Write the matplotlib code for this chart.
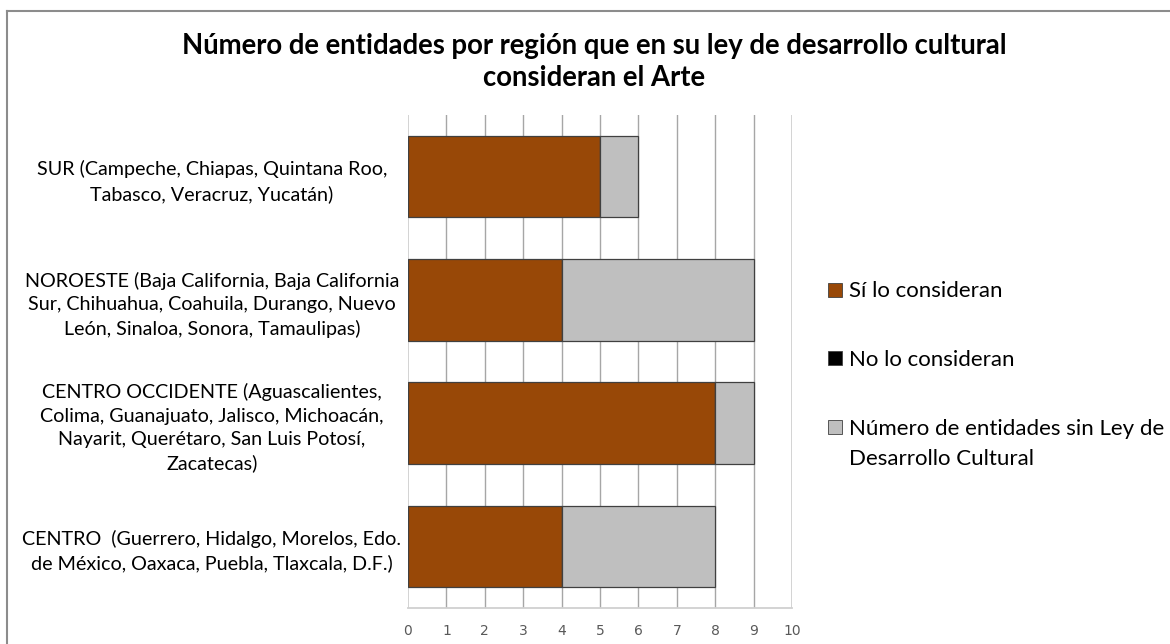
import matplotlib
matplotlib.use("Agg")
import matplotlib.pyplot as plt
from matplotlib.patches import Rectangle
from matplotlib.lines import Line2D

# ---- data ----
categories = [
    "SUR (Campeche, Chiapas, Quintana Roo,\nTabasco, Veracruz, Yucatán)",
    "NOROESTE (Baja California, Baja California\nSur, Chihuahua, Coahuila, Durango, Nuevo\nLeón, Sinaloa, Sonora, Tamaulipas)",
    "CENTRO OCCIDENTE (Aguascalientes,\nColima, Guanajuato, Jalisco, Michoacán,\nNayarit, Querétaro, San Luis Potosí,\nZacatecas)",
    "CENTRO  (Guerrero, Hidalgo, Morelos, Edo.\nde México, Oaxaca, Puebla, Tlaxcala, D.F.)",
]
si_lo_consideran = [5, 4, 8, 4]
no_lo_consideran = [0, 0, 0, 0]
sin_ley = [1, 5, 1, 4]
series_names = ["Sí lo consideran", "No lo consideran",
                "Número de entidades sin Ley de\nDesarrollo Cultural"]
series_colors = ["#984807", "#000000", "#BFBFBF"]
x_ticks = list(range(0, 11))
title = "Número de entidades por región que en su ley de desarrollo cultural\nconsideran el Arte"

FONT = "Lato"
W, H = 1170, 644
PX2PT = 72 / 100
fig = plt.figure(figsize=(W / 100, H / 100), dpi=100)
ax = fig.add_axes([408 / W, 1 - 608 / H, (792 - 408) / W, (608 - 115) / H])

ypos = list(range(len(categories)))
left = [0] * len(categories)
for vals, color, name in zip([si_lo_consideran, no_lo_consideran, sin_ley],
                             series_colors, series_names):
    ax.barh(ypos, vals, left=left, height=0.66, color=color,
            edgecolor="#404040", linewidth=0.9, label=name, zorder=3)
    left = [l + v for l, v in zip(left, vals)]

ax.set_xlim(0, 10)
ax.set_ylim(len(categories) - 0.5, -0.5)
ax.set_xticks(x_ticks)
ax.set_xticklabels([str(t) for t in x_ticks], family="DejaVu Sans",
                   fontsize=10, color="#595959")
ax.tick_params(axis="x", length=0, pad=16 * PX2PT)
ax.set_yticks(ypos)
ax.set_yticklabels(categories, family=FONT, fontsize=14.2, color="#000000",
                   ha="center")
for lbl in ax.get_yticklabels():
    lbl.set_linespacing(1.45)
ax.tick_params(axis="y", length=0, pad=(408 - 212) * PX2PT)

for t in x_ticks:
    c = "#D0D0D0" if t in (0, 10) else "#A6A6A6"
    ax.axvline(t, color=c, linewidth=1.3 if t in (0, 10) else 1.0, zorder=1)
for s in ["top", "right", "left"]:
    ax.spines[s].set_visible(False)
ax.spines["bottom"].set_color("#D0D0D0")
ax.spines["bottom"].set_linewidth(1.3)

fig.text(594 / W, 1 - 62 / H, title, ha="center", va="center",
         family=FONT, fontweight="bold", fontsize=19.8, linespacing=1.33)

# legend (manual placement to match reference)
leg_rows = [289.5, 358, 427]
line_gap = 30
for (yy, name, color) in zip(leg_rows, series_names, series_colors):
    fig.patches.append(Rectangle((828 / W, 1 - (yy + 7) / H), 14 / W, 14 / H,
                                 transform=fig.transFigure, facecolor=color,
                                 edgecolor="#404040", linewidth=0.6))
    for k, part in enumerate(name.split("\n")):
        fig.text(849 / W, 1 - (yy + k * line_gap) / H, part, ha="left",
                 va="center_baseline", family=FONT, fontsize=16,
                 transform=fig.transFigure)

# outer chart border (top and left visible)
fig.add_artist(Line2D([6.5 / W, 6.5 / W], [0, 1 - 10.5 / H], transform=fig.transFigure,
                      color="#8C8C8C", linewidth=1.5))
fig.add_artist(Line2D([6.5 / W, 1], [1 - 10.5 / H, 1 - 10.5 / H], transform=fig.transFigure,
                      color="#8C8C8C", linewidth=1.5))

fig.savefig("out.png", dpi=100)
